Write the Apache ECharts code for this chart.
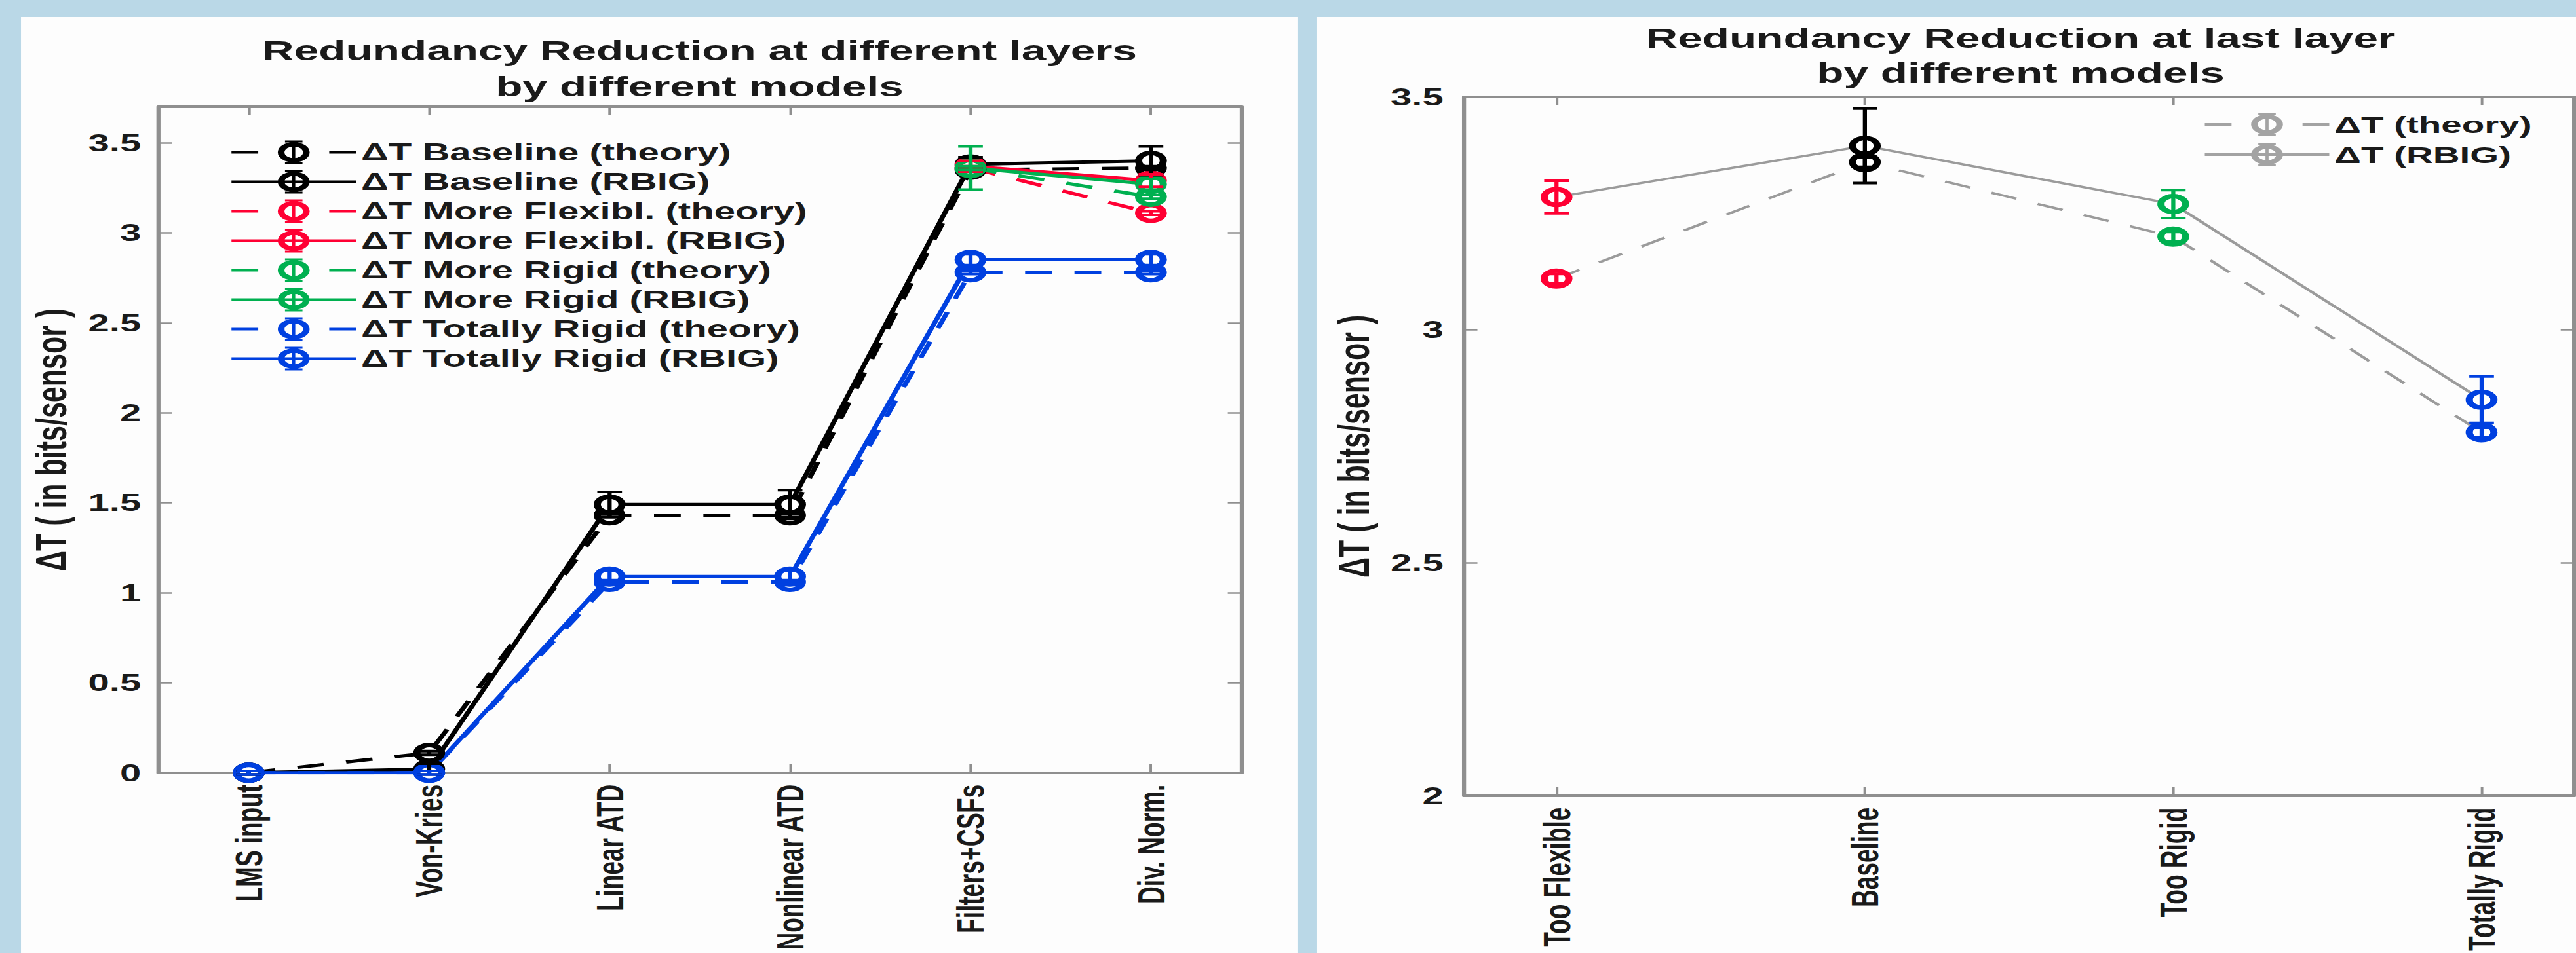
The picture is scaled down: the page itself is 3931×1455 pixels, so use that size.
<!DOCTYPE html>
<html>
<head>
<meta charset="utf-8">
<script src="https://cdn.jsdelivr.net/npm/echarts@6/dist/echarts.min.js"></script>
<style>
html,body{margin:0;padding:0;background:#bad8e7;overflow:hidden;width:3931px;height:1455px;}
#wrap{position:absolute;left:0;top:0;width:2504px;height:1455px;transform:scaleX(1.57);transform-origin:0 0;}
#chart{width:2504px;height:1455px;}
</style>
</head>
<body>
<div id="wrap"><div id="chart"></div></div>
<script>
// ---------- data: left panel (all layers) ----------
const layers = ['LMS input', 'Von-Kries', 'Linear ATD', 'Nonlinear ATD', 'Filters+CSFs', 'Div. Norm.'];
const baselineTheory    = [0, 0.11, 1.43, 1.43, 3.35, 3.36];
const baselineTheoryErr = [0.01, 0.01, 0.01, 0.01, 0.01, 0.01];
const baselineRbig      = [0, 0.02, 1.49, 1.49, 3.38, 3.40];
const baselineRbigErr   = [0.01, 0.03, 0.07, 0.08, 0.04, 0.08];
const flexTheory        = [null, null, null, null, 3.36, 3.11];
const flexTheoryErr     = [null, null, null, null, 0.01, 0.01];
const flexRbig          = [null, null, null, null, 3.37, 3.29];
const flexRbigErr       = [null, null, null, null, 0.03, 0.035];
const rigidTheory       = [null, null, null, null, 3.36, 3.20];
const rigidTheoryErr    = [null, null, null, null, 0.01, 0.01];
const rigidRbig         = [null, null, null, null, 3.36, 3.27];
const rigidRbigErr      = [null, null, null, null, 0.12, 0.03];
const totalTheory       = [0, 0, 1.06, 1.06, 2.78, 2.78];
const totalTheoryErr    = [0.01, 0.01, 0.01, 0.01, 0.01, 0.01];
const totalRbig         = [0, 0, 1.09, 1.09, 2.85, 2.85];
const totalRbigErr      = [0.01, 0.01, 0.03, 0.03, 0.03, 0.03];

// ---------- data: right panel (last layer) ----------
const models        = ['Too Flexible', 'Baseline', 'Too Rigid', 'Totally Rigid'];
const modelPos      = [1, 2, 3, 4];
const lastTheory    = [3.11, 3.36, 3.20, 2.78];
const lastTheoryErr = [0.01, 0.01, 0.01, 0.01];
const lastRbig      = [3.285, 3.395, 3.27, 2.85];
const lastRbigErr   = [0.035, 0.08, 0.03, 0.05];

// ---------- styles ----------
const FONT = 'Liberation Sans, Arial, Helvetica, sans-serif';
const TXT = '#1a1a1a';
const AX = '#8f8f8f';
const COL = {black: '#000000', red: '#ff0033', green: '#00b050', blue: '#0040e0', gray: '#9b9b9b'};
const modelColors = [COL.red, COL.black, COL.green, COL.blue];
const DASH = [26, 22];

// legend glyph: line (solid or dashed) + ring marker + error bar, drawn in a 121 x 36 box
const RING = 'M45 18A15.5 15.5 0 1 1 76 18A15.5 15.5 0 1 1 45 18Z' +
             'M51.5 18A9 9 0 1 0 69.5 18A9 9 0 1 0 51.5 18Z';
const EBAR = 'M59 0L62 0L62 36L59 36Z' +
             'M52 0L69 0L69 3L52 3Z' +
             'M52 33L69 33L69 36L52 36Z';
const ICON_SOLID = 'path://M0 16L121 16L121 20L0 20Z' + RING + EBAR;
const ICON_DASH = 'path://M0 16L26 16L26 20L0 20Z' + 'M95 16L121 16L121 20L95 20Z' + RING + EBAR;

const chart = echarts.init(document.getElementById('chart'), null, {renderer: 'svg'});

function lineSeries(name, data, color, dashed, xi, yi, width) {
  return {
    type: 'line', name: name, data: data, xAxisIndex: xi, yAxisIndex: yi,
    symbol: 'circle', symbolSize: 24, connectNulls: false, z: 2,
    lineStyle: {color: color, width: width, type: dashed ? DASH : 'solid'},
    itemStyle: {color: '#ffffff', borderColor: color, borderWidth: 7},
    emphasis: {disabled: true}, silent: true
  };
}

function errSeries(name, xs, vals, errs, colorOf, xi, yi) {
  const data = [];
  vals.forEach((v, i) => {
    if (v == null || errs[i] == null) return;
    data.push([xs[i], v - errs[i], v + errs[i], i]);
  });
  return {
    type: 'custom', name: name, xAxisIndex: xi, yAxisIndex: yi, z: 3, silent: true,
    data: data,
    renderItem: function (params, api) {
      const x = api.value(0);
      const lo = api.coord([x, api.value(1)]);
      const hi = api.coord([x, api.value(2)]);
      const c = colorOf(api.value(3));
      const hw = 12;
      const st = {stroke: c, lineWidth: 4};
      return {
        type: 'group',
        children: [
          {type: 'line', shape: {x1: hi[0], y1: hi[1], x2: lo[0], y2: lo[1]}, style: st},
          {type: 'line', shape: {x1: hi[0] - hw, y1: hi[1], x2: hi[0] + hw, y2: hi[1]}, style: st},
          {type: 'line', shape: {x1: lo[0] - hw, y1: lo[1], x2: lo[0] + hw, y2: lo[1]}, style: st}
        ]
      };
    }
  };
}

const idx = layers.map((_, i) => i);
const pairs = (vals) => vals.map((v, i) => ({value: [modelPos[i], v], itemStyle: {borderColor: modelColors[i]}}));

const leftDefs = [
  ['ΔT Baseline (theory)', baselineTheory, baselineTheoryErr, COL.black, true],
  ['ΔT Baseline (RBIG)', baselineRbig, baselineRbigErr, COL.black, false],
  ['ΔT More Flexibl. (theory)', flexTheory, flexTheoryErr, COL.red, true],
  ['ΔT More Flexibl. (RBIG)', flexRbig, flexRbigErr, COL.red, false],
  ['ΔT More Rigid (theory)', rigidTheory, rigidTheoryErr, COL.green, true],
  ['ΔT More Rigid (RBIG)', rigidRbig, rigidRbigErr, COL.green, false],
  ['ΔT Totally Rigid (theory)', totalTheory, totalTheoryErr, COL.blue, true],
  ['ΔT Totally Rigid (RBIG)', totalRbig, totalRbigErr, COL.blue, false]
];

const series = [];
leftDefs.forEach(d => series.push(lineSeries(d[0], d[1], d[3], d[4], 0, 0, 5)));
leftDefs.forEach(d => series.push(errSeries(d[0] + ' err', idx, d[1], d[2], () => d[3], 0, 0)));

series.push(lineSeries('ΔT (theory)', pairs(lastTheory), COL.gray, true, 2, 2, 3.5));
series.push(lineSeries('ΔT (RBIG)', pairs(lastRbig), COL.gray, false, 2, 2, 3.5));
series.push(errSeries('theory err', modelPos, lastTheory, lastTheoryErr, i => modelColors[i], 2, 2));
series.push(errSeries('rbig err', modelPos, lastRbig, lastRbigErr, i => modelColors[i], 2, 2));

const legendItem = (name, color, dashed) => ({
  name: name, icon: dashed ? ICON_DASH : ICON_SOLID,
  itemStyle: {color: color, borderWidth: 0, opacity: 1}
});

const axLine = {show: true, onZero: false, lineStyle: {color: AX, width: 4}};
const tick = {show: true, inside: true, length: 13, lineStyle: {color: AX, width: 2.5}};
const noSplit = {show: false};
const xLab = {show: true, rotate: 90, margin: 18, interval: 0, fontSize: 37, fontWeight: 'bold', color: TXT, fontFamily: FONT};
const yLab = {show: true, fontSize: 37, fontWeight: 'bold', color: TXT, fontFamily: FONT, showMaxLabel: false};
const nameStyle = {fontSize: 43, fontWeight: 'bold', color: TXT, fontFamily: FONT};

const option = {
  animation: false,
  backgroundColor: 'transparent',
  textStyle: {fontFamily: FONT},
  graphic: [
    {type: 'rect', z: -10, silent: true, shape: {x: 20.4, y: 26, width: 1240.7, height: 1440}, style: {fill: '#fdfdfd'}},
    {type: 'rect', z: -10, silent: true, shape: {x: 1279.6, y: 26, width: 1230, height: 1440}, style: {fill: '#fdfdfd'}}
  ],
  title: [
    {text: 'Redundancy Reduction at different layers\nby different models', left: 680, top: 50, padding: 0,
     textAlign: 'center', textVerticalAlign: 'top',
     textStyle: {fontSize: 43, fontWeight: 'bold', lineHeight: 55, color: TXT, fontFamily: FONT}},
    {text: 'Redundancy Reduction at last layer\nby different models', left: 1964, top: 32, padding: 0,
     textAlign: 'center', textVerticalAlign: 'top',
     textStyle: {fontSize: 43, fontWeight: 'bold', lineHeight: 53, color: TXT, fontFamily: FONT}}
  ],
  legend: [
    {data: leftDefs.map(d => legendItem(d[0], d[3], d[4])), orient: 'vertical', left: 225, top: 214, padding: 0,
     itemWidth: 121, itemHeight: 36, itemGap: 8, selectedMode: false, symbolKeepAspect: false,
     textStyle: {fontSize: 37, fontWeight: 'bold', color: TXT, fontFamily: FONT, lineHeight: 36}},
    {data: [legendItem('ΔT (theory)', '#a3a3a3', true), legendItem('ΔT (RBIG)', '#a3a3a3', false)],
     orient: 'vertical', left: 2143, top: 172, padding: 0,
     itemWidth: 121, itemHeight: 36, itemGap: 10, selectedMode: false, symbolKeepAspect: false,
     textStyle: {fontSize: 36, fontWeight: 'bold', color: TXT, fontFamily: FONT, lineHeight: 36}}
  ],
  grid: [
    {left: 154.1, top: 163, width: 1052.3, height: 1019, containLabel: false},
    {left: 1423, top: 148, width: 1079, height: 1071, containLabel: false}
  ],
  xAxis: [
    {type: 'category', gridIndex: 0, data: layers, boundaryGap: true, position: 'bottom',
     axisLine: axLine, axisTick: Object.assign({alignWithLabel: true}, tick), axisLabel: xLab, splitLine: noSplit},
    {type: 'category', gridIndex: 0, data: layers, boundaryGap: true, position: 'top',
     axisLine: axLine, axisTick: Object.assign({alignWithLabel: true}, tick), axisLabel: {show: false}, splitLine: noSplit},
    {type: 'value', gridIndex: 1, min: 0.7, max: 4.3, position: 'bottom',
     axisLine: axLine, axisTick: Object.assign({customValues: modelPos}, tick),
     axisLabel: Object.assign({customValues: modelPos, formatter: v => models[Math.round(v) - 1] || ''}, xLab),
     splitLine: noSplit},
    {type: 'value', gridIndex: 1, min: 0.7, max: 4.3, position: 'top',
     axisLine: axLine, axisTick: Object.assign({customValues: modelPos}, tick), axisLabel: {show: false}, splitLine: noSplit}
  ],
  yAxis: [
    {type: 'value', gridIndex: 0, min: 0, max: 3.7, interval: 0.5, position: 'left',
     name: 'ΔT ( in bits/sensor )', nameLocation: 'middle', nameGap: 83, nameTextStyle: nameStyle,
     axisLine: axLine, axisTick: tick, axisLabel: Object.assign({margin: 17}, yLab), splitLine: noSplit},
    {type: 'value', gridIndex: 0, min: 0, max: 3.7, interval: 0.5, position: 'right',
     axisLine: axLine, axisTick: tick, axisLabel: {show: false}, splitLine: noSplit},
    {type: 'value', gridIndex: 1, min: 2, max: 3.5, interval: 0.5, position: 'left',
     name: 'ΔT ( in bits/sensor )', nameLocation: 'middle', nameGap: 86, nameTextStyle: nameStyle,
     axisLine: axLine, axisTick: tick, axisLabel: Object.assign({margin: 20}, yLab, {showMaxLabel: true}), splitLine: noSplit},
    {type: 'value', gridIndex: 1, min: 2, max: 3.5, interval: 0.5, position: 'right',
     axisLine: axLine, axisTick: tick, axisLabel: {show: false}, splitLine: noSplit}
  ],
  series: series
};

chart.setOption(option);
</script>
</body>
</html>
